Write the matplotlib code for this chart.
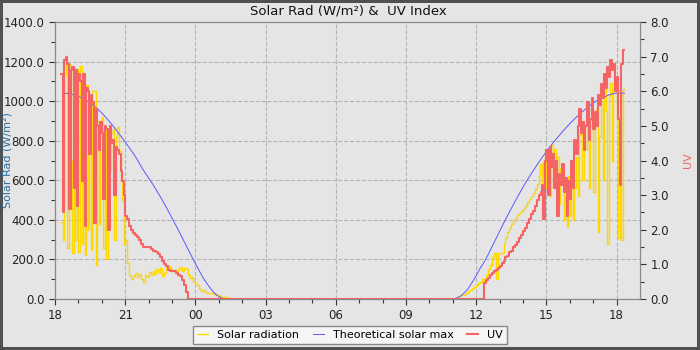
import matplotlib.pyplot as plt
import numpy as np


def hrs(hhmm):
    # hours since 18:00 on the first day
    h, m = map(int, hhmm.split(':'))
    t = h + m / 60.0
    return t - 18 if t >= 18 else t + 6


def seg(start, step, vals):
    t0 = hrs(start)
    return t0 + np.arange(len(vals)) * step / 60.0, np.array(vals, float)


# solar radiation (W/m2)
solar_eve = [390, 300, 1130, 1200, 260, 1190, 700, 230, 1150, 300, 1160, 240, 1180, 280,
             1050, 220, 1080, 350, 980, 250, 1050, 1050, 170, 900, 380, 880, 920, 260, 870,
             200, 860, 650, 840, 860, 300, 820, 870, 750, 600, 500, 280, 300]
solar_dusk = [180, 120, 100, 115, 130, 110, 125, 100, 85, 120, 110, 135, 120, 140, 125, 150,
              135, 155, 115, 130, 160, 165, 150, 140, 145, 130, 150, 160, 140, 155, 150, 120,
              105, 110, 85, 75, 70, 50, 40, 45, 35, 30, 32, 28, 25, 20, 18, 15, 12, 10, 8, 6,
              4, 2, 0]
solar_morn = [0, 5, 10, 15, 18, 20, 25, 30, 40, 45, 55, 60, 70, 80, 85, 100, 90, 120, 150,
              170, 210, 230, 100, 230, 235, 230, 280, 310, 340, 360, 380, 395, 410, 425, 435,
              445, 455, 470, 490, 505, 520, 535, 555, 580]
solar_aft = [620, 680, 480, 700, 760, 560, 740, 520, 780, 640, 760, 540, 720, 480, 660, 600,
             400, 520, 370, 620, 420, 640, 400, 560, 720, 520, 830, 890, 600, 800, 760, 860,
             560, 880, 940, 540, 900, 960, 340, 820, 1000, 600, 1080, 950, 280, 1020, 1090,
             700, 1050, 1060, 900, 310, 1050, 300, 1060, 1060]

# theoretical solar max (W/m2)
tmax_desc = [1040, 1039, 1036, 1031, 1024, 1015, 1004, 991, 976, 959, 940, 919, 896, 872,
             846, 820, 793, 766, 738, 708, 673, 641, 612, 582, 550, 517, 483, 446, 409, 372,
             334, 295, 256, 217, 178, 142, 107, 77, 50, 28, 12, 3, 0]
tmax_rise = [0, 5, 15, 32, 55, 85, 118, 155, 185, 222, 262, 302, 342, 382, 420, 458, 495,
             530, 565, 598, 630, 660, 690, 718, 745, 771, 796, 820, 843, 865, 886, 906, 925,
             943, 960, 976, 990, 1003, 1014, 1023, 1031, 1037, 1040, 1041, 1040]

# UV index
uv_eve = [6.5, 2.5, 6.9, 7.0, 6.8, 2.6, 6.6, 6.7, 3.2, 6.6, 2.7, 6.5, 6.3, 3.4, 6.5, 2.1,
          6.1, 6.0, 4.2, 5.9, 5.7, 2.2, 5.5, 5.0, 4.3, 5.1, 4.8, 2.9, 5.0, 4.9, 2.0, 5.0,
          4.5, 4.6, 3.0, 4.4, 4.3, 4.2, 3.7, 3.4, 3.0, 2.4]
uv_dusk = [2.3, 2.1, 2.0, 1.9, 1.85, 1.8, 1.7, 1.6, 1.5, 1.5, 1.5, 1.5, 1.45, 1.4, 1.4,
           1.35, 1.3, 1.2, 1.1, 1.0, 0.95, 0.85, 0.8, 0.8, 0.8, 0.75, 0.7, 0.65, 0.55, 0.4,
           0.2, 0.0]
uv_morn = [0.0, 0.45, 0.55, 0.6, 0.7, 0.75, 0.8, 0.85, 0.9, 0.95, 1.05, 1.1, 1.2, 1.25,
           1.35, 1.4, 1.5, 1.55, 1.65, 1.75, 1.85, 1.95, 2.05, 2.2, 2.3, 2.45, 2.55, 2.7,
           2.85, 3.0, 3.1]
uv_aft = [3.3, 2.3, 4.0, 4.3, 3.0, 4.4, 3.8, 4.2, 3.2, 4.0, 2.4, 3.6, 3.3, 3.9, 3.1, 3.5,
          2.4, 3.4, 2.9, 4.0, 3.2, 4.6, 4.2, 5.0, 5.5, 4.8, 5.1, 4.3, 5.0, 5.7, 4.6, 5.2,
          5.8, 4.9, 5.4, 5.0, 5.9, 5.6, 6.2, 5.8, 6.5, 6.1, 6.7, 6.4, 6.9, 6.6, 6.8, 6.0,
          6.4, 5.2, 3.3, 6.8, 7.2, 7.2]

xticks = [0, 3, 6, 9, 12, 15, 18, 21, 24]
xlabels = ['18', '21', '00', '03', '06', '09', '12', '15', '18']

parts = [seg('18:16', 4, solar_eve), seg('21:05', 5, solar_dusk),
         seg('11:00', 5, solar_morn), seg('14:40', 4, solar_aft)]
t_sol = np.concatenate([p[0] for p in parts])
v_sol = np.concatenate([p[1] for p in parts])

parts = [seg('18:20', 10, tmax_desc), seg('11:00', 10, tmax_rise)]
t_max = np.concatenate([p[0] for p in parts])
v_max = np.concatenate([p[1] for p in parts])

parts = [seg('18:16', 4, uv_eve), seg('21:05', 5, uv_dusk),
         seg('12:15', 5, uv_morn), seg('14:48', 4, uv_aft)]
t_uv = np.concatenate([p[0] for p in parts])
v_uv = np.concatenate([p[1] for p in parts])

bg = '#e5e5e5'
fig = plt.figure(figsize=(7, 3.5), dpi=100)
fig.patch.set_facecolor(bg)
fig.patch.set_edgecolor('#505050')
fig.patch.set_linewidth(3)
ax = fig.add_axes([55 / 700, 1 - 299 / 350, 585 / 700, 277 / 350])
ax.set_facecolor(bg)

l1, = ax.plot(t_sol, v_sol, color='#ffd700', lw=1.0, drawstyle='steps-post',
              label='Solar radiation')
l2, = ax.plot(t_max, v_max, color='#5a5aff', lw=0.7, label='Theoretical solar max')
ax2 = ax.twinx()
l3, = ax2.plot(t_uv, v_uv, color='#f46464', lw=1.5, drawstyle='steps-post', label='UV')

ax.set_xlim(0, 25)
ax.set_ylim(0, 1400)
ax2.set_ylim(0, 8)
ax.set_xticks(xticks)
ax.set_xticklabels(xlabels)
ax.set_xticks(np.arange(0, 25, 1), minor=True)
ax.set_yticks(np.arange(0, 1401, 200))
ax.set_yticks(np.arange(0, 1401, 100), minor=True)
ax.set_yticklabels(['%.1f' % v for v in np.arange(0, 1401, 200)])
ax2.set_yticks(np.arange(0, 8.1, 1))
ax2.set_yticks(np.arange(0, 8.1, 0.5), minor=True)
ax2.set_yticklabels(['%.1f' % v for v in np.arange(0, 8.1, 1)])

for a in (ax, ax2):
    for s in a.spines.values():
        s.set_color('#888888')
    a.tick_params(labelsize=8.5, colors='#222222', length=4, width=0.8)
    a.tick_params(which='minor', length=3, width=0.8)
    a.tick_params(axis='both', color='#333333', which='both')

ax.grid(True, ls='--', color='#b4b4b4', lw=0.8)
ax.set_axisbelow(True)

ax.set_ylabel('Solar Rad (W/m²)', color='#2a6ea0', fontsize=8)
ax.yaxis.set_label_coords(-0.072, 0.5)
ax2.set_ylabel('UV', color='#f46464', fontsize=8)
ax2.yaxis.set_label_coords(1.073, 0.5)
fig.text(0.497, 0.97, 'Solar Rad (W/m²) &  UV Index', ha='center', va='center',
         fontsize=9.5, color='#111111')

leg = fig.legend([l1, l2, l3], ['Solar radiation', 'Theoretical solar max', 'UV'],
                 loc='lower center', bbox_to_anchor=(0.5, 0.0), ncol=3, fontsize=8,
                 fancybox=False, edgecolor='#888888', facecolor='#f5f5f5', framealpha=1,
                 handlelength=1.0, columnspacing=1.2, borderpad=0.4)

fig.savefig('out.png', dpi=100, facecolor=fig.get_facecolor(), edgecolor=fig.get_edgecolor())
